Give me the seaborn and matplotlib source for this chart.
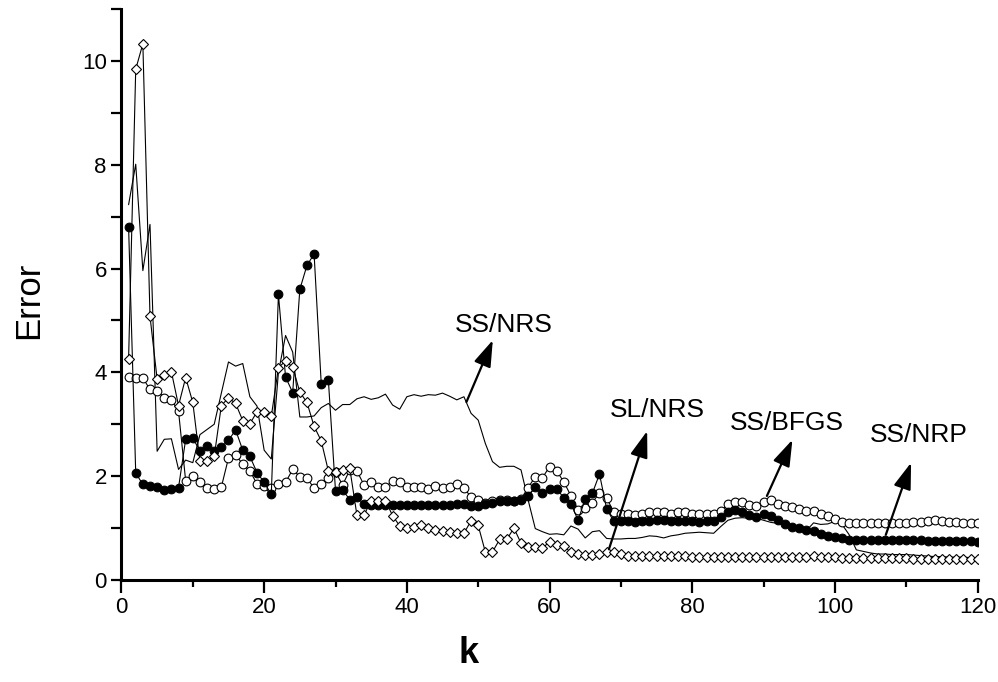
import numpy as np
import pandas as pd
import seaborn as sns
import matplotlib.pyplot as plt
from matplotlib.ticker import MultipleLocator

# iteration index
k = list(range(1, 121))

# SS/NRS (plain line)
ss_nrs = [7.23, 8.01, 5.96, 6.85, 2.48, 2.71, 2.72, 2.13, 2.31, 2.26,
          2.80, 2.90, 3.00, 3.60, 4.20, 4.12, 4.17, 3.53, 3.35, 2.50,
          2.33, 4.00, 4.71, 4.39, 3.14, 3.14, 3.16, 3.32, 3.40, 3.27,
          3.38, 3.38, 3.49, 3.53, 3.48, 3.51, 3.58, 3.37, 3.29, 3.53,
          3.57, 3.54, 3.57, 3.56, 3.60, 3.54, 3.47, 3.53, 3.21, 3.08,
          2.63, 2.28, 2.17, 2.19, 2.19, 2.12, 1.54, 0.99, 0.93, 0.88,
          0.89, 0.87, 1.04, 0.98, 0.81, 0.93, 0.95, 0.80, 0.79, 0.79,
          0.80, 0.80, 0.82, 0.85, 0.84, 0.81, 0.85, 0.87, 0.90, 0.91,
          0.92, 0.91, 0.90, 1.03, 1.15, 1.19, 1.20, 1.19, 1.19, 1.15,
          1.11, 1.09, 1.06, 1.01, 0.98, 0.95, 1.10, 1.07, 1.08, 1.13,
          1.07, 0.87, 0.58, 0.55, 0.52, 0.50, 0.50, 0.49, 0.49, 0.49,
          0.48, 0.47, 0.46, 0.45, 0.45, 0.44, 0.44, 0.44, 0.43, 0.43]

# SS/NRP (filled circles)
ss_nrp = [6.80, 2.06, 1.84, 1.82, 1.79, 1.74, 1.75, 1.78, 2.71, 2.73,
          2.49, 2.59, 2.49, 2.56, 2.69, 2.89, 2.50, 2.38, 2.07, 1.88,
          1.65, 5.50, 3.91, 3.61, 5.60, 6.06, 6.28, 3.78, 3.85, 1.72,
          1.73, 1.55, 1.59, 1.46, 1.45, 1.45, 1.45, 1.45, 1.44, 1.44,
          1.44, 1.44, 1.44, 1.45, 1.45, 1.45, 1.46, 1.46, 1.43, 1.43,
          1.46, 1.49, 1.52, 1.52, 1.52, 1.55, 1.61, 1.79, 1.68, 1.76,
          1.76, 1.58, 1.47, 1.15, 1.56, 1.67, 2.04, 1.37, 1.13, 1.13,
          1.13, 1.12, 1.13, 1.14, 1.15, 1.15, 1.14, 1.14, 1.13, 1.13,
          1.12, 1.13, 1.14, 1.21, 1.31, 1.35, 1.31, 1.25, 1.21, 1.27,
          1.24, 1.15, 1.08, 1.03, 1.01, 0.97, 0.95, 0.88, 0.85, 0.82,
          0.80, 0.77, 0.77, 0.77, 0.77, 0.77, 0.77, 0.77, 0.77, 0.77,
          0.77, 0.77, 0.76, 0.76, 0.76, 0.76, 0.75, 0.75, 0.75, 0.74]

# SS/BFGS (open circles)
ss_bfgs = [3.91, 3.89, 3.89, 3.67, 3.65, 3.51, 3.47, 3.25, 1.91, 2.01,
           1.88, 1.78, 1.76, 1.79, 2.35, 2.41, 2.23, 2.10, 1.85, 1.81,
           1.77, 1.85, 1.88, 2.13, 1.99, 1.96, 1.77, 1.85, 1.97, 2.08,
           1.83, 2.12, 2.10, 1.83, 1.89, 1.79, 1.79, 1.91, 1.89, 1.79,
           1.79, 1.79, 1.76, 1.82, 1.78, 1.79, 1.85, 1.78, 1.59, 1.54,
           1.49, 1.53, 1.55, 1.54, 1.53, 1.56, 1.78, 1.99, 1.97, 2.18,
           2.10, 1.89, 1.62, 1.35, 1.38, 1.49, 1.68, 1.58, 1.31, 1.27,
           1.27, 1.26, 1.27, 1.30, 1.31, 1.30, 1.27, 1.30, 1.30, 1.28,
           1.27, 1.27, 1.28, 1.33, 1.46, 1.51, 1.51, 1.45, 1.43, 1.50,
           1.54, 1.47, 1.43, 1.40, 1.36, 1.33, 1.33, 1.28, 1.24, 1.17,
           1.11, 1.09, 1.09, 1.09, 1.09, 1.09, 1.09, 1.09, 1.09, 1.10,
           1.11, 1.12, 1.13, 1.15, 1.14, 1.12, 1.11, 1.10, 1.09, 1.09]

# SL/NRS (open diamonds)
sl_nrs = [4.26, 9.84, 10.33, 5.08, 3.87, 3.94, 4.01, 3.36, 3.90, 3.42,
          2.29, 2.29, 2.38, 3.36, 3.51, 3.40, 3.07, 3.01, 3.24, 3.24,
          3.15, 4.09, 4.22, 4.10, 3.62, 3.42, 2.96, 2.68, 2.10, 2.08,
          2.12, 2.15, 1.25, 1.25, 1.53, 1.53, 1.53, 1.24, 1.04, 1.00,
          1.03, 1.05, 1.01, 0.96, 0.95, 0.92, 0.90, 0.90, 1.14, 1.05,
          0.54, 0.54, 0.78, 0.78, 1.00, 0.71, 0.64, 0.64, 0.61, 0.74,
          0.67, 0.65, 0.53, 0.51, 0.48, 0.48, 0.50, 0.53, 0.53, 0.50,
          0.46, 0.46, 0.46, 0.46, 0.46, 0.46, 0.46, 0.46, 0.46, 0.45,
          0.45, 0.44, 0.44, 0.44, 0.44, 0.44, 0.44, 0.44, 0.44, 0.44,
          0.44, 0.44, 0.44, 0.44, 0.44, 0.44, 0.46, 0.45, 0.44, 0.44,
          0.43, 0.43, 0.42, 0.42, 0.42, 0.42, 0.42, 0.42, 0.42, 0.42,
          0.41, 0.41, 0.41, 0.41, 0.41, 0.41, 0.40, 0.40, 0.40, 0.40]

# annotation labels: text, text position (k, err), arrow tail/tip (k, err)
labels = ['SS/NRS', 'SL/NRS', 'SS/BFGS', 'SS/NRP']
text_pos = [(53.6, 4.92), (75.1, 3.27), (93.2, 3.02), (111.8, 2.79)]
arrow_tail = [(48.2, 3.38), (68.2, 0.54), (90.3, 1.57), (107.0, 0.82)]
arrow_tip = [(52.2, 4.67), (73.8, 2.92), (94.2, 2.75), (110.8, 2.31)]

#%%
sns.set_style('ticks')
plt.rcParams['font.family'] = ['Liberation Sans', 'DejaVu Sans']
plt.rcParams['text.color'] = 'black'
plt.rcParams['axes.labelcolor'] = 'black'
plt.rcParams['xtick.color'] = 'black'
plt.rcParams['ytick.color'] = 'black'

fig = plt.figure(figsize=(9.98, 6.82), dpi=100)
ax = fig.add_axes([0.1217, 0.1496, 0.8579, 0.8372])

sns.lineplot(x=k, y=ss_nrs, ax=ax, color='black', lw=0.8)
sns.lineplot(x=k, y=ss_bfgs, ax=ax, color='black', lw=0.8, marker='o',
             markersize=6.3, markerfacecolor='white', markeredgecolor='black',
             markeredgewidth=0.8)
sns.lineplot(x=k, y=ss_nrp, ax=ax, color='black', lw=0.8, marker='o',
             markersize=6.3, markerfacecolor='black', markeredgecolor='black')
sns.lineplot(x=k, y=sl_nrs, ax=ax, color='black', lw=0.8, marker='D',
             markersize=4.8, markerfacecolor='white', markeredgecolor='black',
             markeredgewidth=0.8)

for lab, tp, tail, tip in zip(labels, text_pos, arrow_tail, arrow_tip):
    ax.text(tp[0], tp[1], lab, fontsize=19, ha='center', va='center',
            color='black')
    ax.annotate('', xy=tip, xytext=tail,
                arrowprops=dict(arrowstyle='-|>,head_width=0.3,head_length=0.9',
                                color='black', lw=1.6, mutation_scale=18))

ax.set_xlim(0, 120)
ax.set_ylim(0, 11)
ax.xaxis.set_major_locator(MultipleLocator(20))
ax.xaxis.set_minor_locator(MultipleLocator(10))
ax.set_yticks([0, 2, 4, 6, 8, 10])
ax.yaxis.set_minor_locator(MultipleLocator(1))
ax.tick_params(axis='both', which='major', direction='out', length=9,
               width=1.6, labelsize=16, color='black', labelcolor='black')
ax.tick_params(axis='x', which='minor', direction='out', length=5, width=1.6)
ax.tick_params(axis='y', which='minor', direction='out', length=7, width=1.6)
ax.tick_params(axis='y', which='major', length=7)

for s in ['left', 'bottom']:
    ax.spines[s].set_linewidth(2.2)
    ax.spines[s].set_color('black')
sns.despine(ax=ax)

ax.set_xlabel('k', fontsize=26, fontweight='bold', va='center')
ax.xaxis.set_label_coords(0.405, -0.128)
ax.set_ylabel('Error', fontsize=25, va='center')
ax.yaxis.set_label_coords(-0.109, 0.49)

fig.savefig('out.png', dpi=100)
